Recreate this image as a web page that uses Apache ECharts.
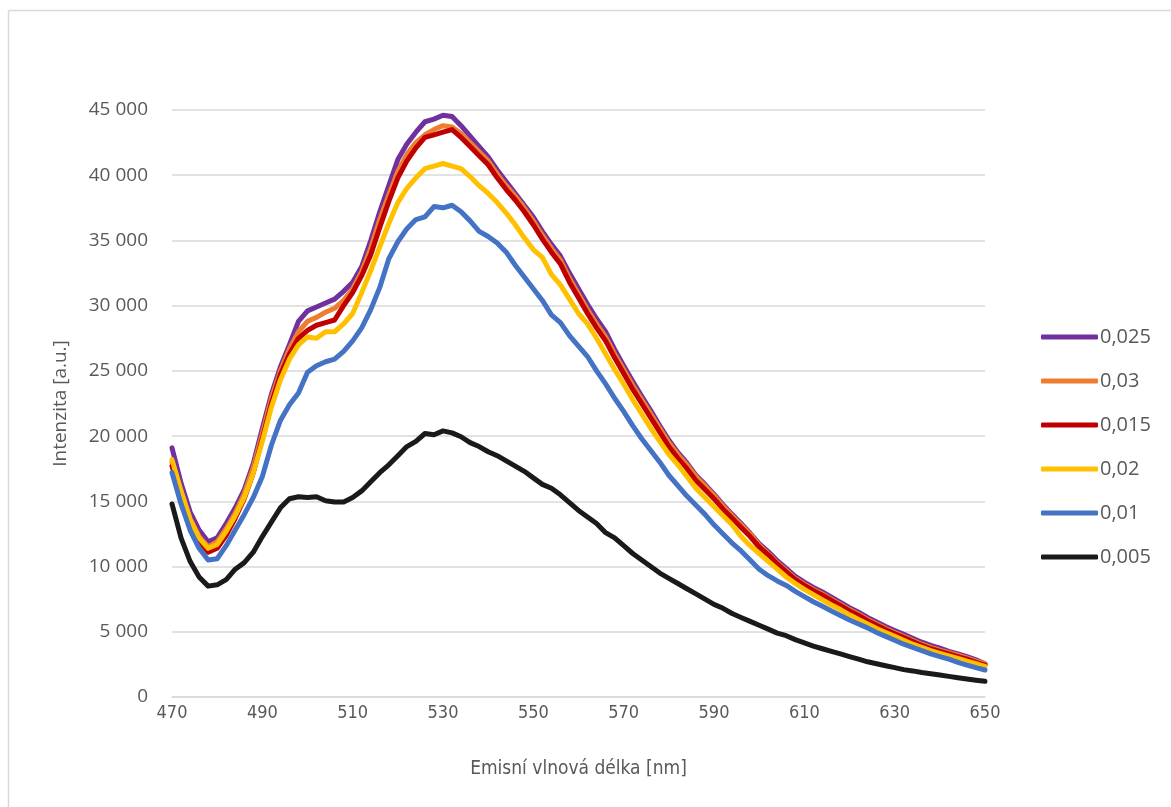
<!DOCTYPE html>
<html>
<head>
<meta charset="utf-8">
<script src="https://cdn.jsdelivr.net/npm/echarts@6/dist/echarts.min.js"></script>
<style>
html,body{margin:0;padding:0;background:#fff;}
#chart{width:1171px;height:807px;}
</style>
</head>
<body>
<div id="chart"></div>
<script>
const wavelengths = [470,472,474,476,478,480,482,484,486,488,
  490,492,494,496,498,500,502,504,506,508,
  510,512,514,516,518,520,522,524,526,528,
  530,532,534,536,538,540,542,544,546,548,
  550,552,554,556,558,560,562,564,566,568,
  570,572,574,576,578,580,582,584,586,588,
  590,592,594,596,598,600,602,604,606,608,
  610,612,614,616,618,620,622,624,626,628,
  630,632,634,636,638,640,642,644,646,648,650];

const s0025 = [19100,16400,14200,12800,11900,12200,13300,14500,15900,17900,
  20600,23200,25300,27000,28800,29600,29900,30200,30500,31100,
  31800,33000,35000,37200,39200,41200,42400,43300,44100,44300,
  44600,44500,43800,43000,42200,41400,40400,39500,38600,37700,
  36800,35700,34700,33800,32500,31300,30100,29000,28000,26650,
  25400,24200,23050,21950,20800,19700,18750,17950,17000,16300,
  15550,14750,14000,13300,12550,11750,11150,10450,9850,9250,
  8800,8400,8050,7650,7250,6850,6500,6100,5750,5400,
  5100,4800,4500,4200,3950,3750,3500,3300,3100,2850,2550];

const s003 = [18000,15800,13700,12300,11500,11900,12900,14100,15600,17600,
  20200,22900,25000,26700,28000,28800,29100,29500,29800,30400,
  31300,32600,34400,36600,38500,40300,41600,42500,43100,43500,
  43800,43700,43200,42500,41800,41100,40100,39200,38400,37500,
  36500,35400,34400,33500,32100,30900,29700,28600,27600,26300,
  25100,23900,22800,21700,20600,19500,18600,17800,16900,16200,
  15450,14650,13900,13200,12500,11650,11000,10300,9700,9100,
  8650,8250,7900,7500,7100,6700,6350,5950,5600,5250,
  4950,4650,4350,4050,3800,3600,3400,3200,3000,2750,2550];

const s0015 = [17700,15500,13400,12000,11100,11400,12400,13700,15200,17200,
  19800,22500,24700,26300,27500,28100,28500,28700,28900,30000,
  31000,32300,33900,36000,38000,39800,41100,42100,42900,43100,
  43300,43500,42900,42200,41500,40800,39800,38900,38100,37200,
  36200,35100,34100,33200,31800,30600,29400,28300,27300,26000,
  24800,23600,22500,21400,20300,19200,18300,17500,16600,15900,
  15200,14400,13700,13000,12300,11500,10900,10200,9600,9000,
  8550,8150,7800,7400,7000,6600,6250,5850,5500,5150,
  4850,4550,4250,3950,3700,3500,3300,3100,2900,2650,2450];

const s002 = [18200,15800,13600,12200,11400,11700,12700,13900,15300,17200,
  19600,22200,24300,25900,27000,27600,27500,28000,28000,28600,
  29400,31000,32700,34500,36300,37900,39000,39800,40500,40700,
  40900,40700,40500,39900,39200,38600,37900,37100,36200,35200,
  34300,33700,32400,31600,30500,29400,28600,27500,26300,25100,
  24000,22800,21700,20600,19600,18600,17800,16900,16000,15300,
  14600,13900,13200,12300,11600,11000,10400,9800,9200,8700,
  8250,7850,7450,7050,6700,6300,5950,5600,5250,4950,
  4650,4350,4050,3800,3550,3350,3150,2950,2750,2550,2350];

const s001 = [17200,14800,12800,11400,10500,10600,11600,12800,14000,15300,
  16900,19300,21200,22400,23300,24900,25400,25700,25900,26500,
  27300,28300,29700,31400,33600,34900,35900,36600,36800,37600,
  37500,37700,37200,36500,35700,35300,34800,34100,33100,32200,
  31300,30400,29300,28700,27700,26900,26100,25000,24000,22900,
  21900,20800,19800,18900,18000,17000,16200,15400,14700,14000,
  13200,12500,11800,11200,10500,9800,9300,8900,8550,8100,
  7700,7300,6950,6600,6250,5900,5600,5300,4950,4650,
  4350,4050,3800,3550,3300,3100,2900,2650,2450,2250,2070];

const s0005 = [14800,12200,10400,9200,8500,8600,9000,9800,10300,11100,
  12300,13400,14500,15200,15350,15300,15350,15050,14950,14950,
  15300,15800,16500,17200,17800,18500,19200,19600,20200,20100,
  20400,20250,19950,19500,19200,18800,18500,18100,17700,17300,
  16800,16300,16000,15500,14900,14300,13800,13300,12600,12200,
  11600,11000,10500,10000,9500,9100,8700,8300,7900,7500,
  7100,6800,6400,6100,5800,5500,5200,4900,4700,4400,
  4150,3900,3700,3500,3300,3100,2900,2700,2550,2400,
  2250,2100,2000,1880,1780,1680,1580,1480,1380,1290,1200];

const seriesNames = ['0,025','0,03','0,015','0,02','0,01','0,005'];
const seriesValues = [s0025, s003, s0015, s002, s001, s0005];
const seriesColors = ['#7030A0','#ED7D31','#C00000','#FFC000','#4472C4','#1A1A1A'];

const xTicks = {min: 470, max: 650, interval: 20};
const yTicks = {min: 0, max: 45000, interval: 5000};

const textColor = '#595959';
const gridColor = '#D9D9D9';

const chart = echarts.init(document.getElementById('chart'), null, {renderer: 'canvas'});

const series = seriesNames.map((name, i) => ({
  name: name,
  type: 'line',
  data: wavelengths.map((w, j) => [w, seriesValues[i][j]]),
  showSymbol: false,
  symbol: 'none',
  smooth: false,
  lineStyle: {width: 5, color: seriesColors[i], cap: 'round', join: 'round'},
  itemStyle: {color: seriesColors[i]},
  z: 2 + i
}));

chart.setOption({
  animation: false,
  backgroundColor: '#ffffff',
  grid: {left: 172, right: 186, top: 110, bottom: 110, containLabel: false},
  xAxis: {
    type: 'value',
    min: xTicks.min, max: xTicks.max, interval: xTicks.interval,
    name: 'Emisní vlnová délka [nm]',
    nameLocation: 'middle',
    nameGap: 63,
    nameTextStyle: {color: textColor, fontSize: 19, fontFamily: '"Liberation Sans Narrow", "DejaVu Sans Condensed", "Liberation Sans", sans-serif'},
    axisLine: {show: true, lineStyle: {color: gridColor, width: 1.5}},
    axisTick: {show: false},
    splitLine: {show: false},
    axisLabel: {color: textColor, fontSize: 18, margin: 7, fontFamily: '"Liberation Sans Narrow", "DejaVu Sans Condensed", "Liberation Sans", sans-serif'}
  },
  yAxis: {
    type: 'value',
    min: yTicks.min, max: yTicks.max, interval: yTicks.interval,
    name: 'Intenzita [a.u.]',
    nameLocation: 'middle',
    nameGap: 102,
    nameTextStyle: {color: textColor, fontSize: 19, fontFamily: '"Open Sans", sans-serif'},
    axisLine: {show: false},
    axisTick: {show: false},
    splitLine: {show: true, lineStyle: {color: gridColor, width: 1.5}},
    axisLabel: {
      color: textColor, fontSize: 19, margin: 24, fontFamily: '"Open Sans", sans-serif',
      formatter: v => v === 0 ? '0' : String(v).replace(/\B(?=(\d{3})+(?!\d))/g, ' ')
    }
  },
  legend: {
    orient: 'vertical',
    left: 1036,
    top: 322,
    icon: 'roundRect',
    itemWidth: 57,
    itemHeight: 5,
    itemGap: 24,
    data: seriesNames,
    textStyle: {color: textColor, fontSize: 20, lineHeight: 20, padding: [0,0,0,-3], fontFamily: '"Open Sans", sans-serif'}
  },
  graphic: [
    {type: 'line', shape: {x1: 8.5, y1: 10.5, x2: 1171, y2: 10.5}, style: {stroke: gridColor, lineWidth: 1.5}, silent: true},
    {type: 'line', shape: {x1: 8.5, y1: 10.5, x2: 8.5, y2: 807}, style: {stroke: gridColor, lineWidth: 1.5}, silent: true}
  ],
  series: series
});
</script>
</body>
</html>
